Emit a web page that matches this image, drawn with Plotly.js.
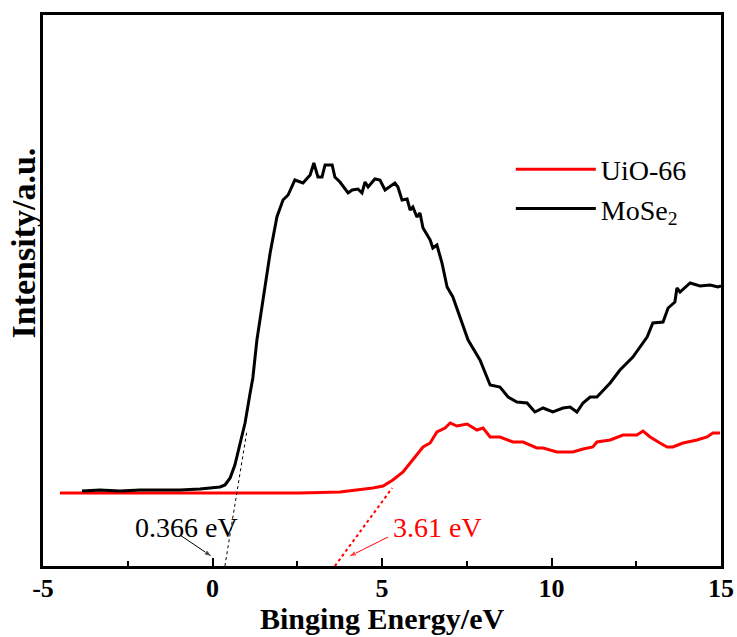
<!DOCTYPE html>
<html>
<head>
<meta charset="utf-8">
<script src="https://cdn.plot.ly/plotly-3.0.1.min.js"></script>
<style>html,body{margin:0;padding:0;background:#fff;}</style>
</head>
<body>
<div id="chart" style="width:737px;height:637px;"></div>
<script>
// MoSe2 spectrum
const mose2X = [-3.85,-3.32,-2.73,-2.14,-1.55,-0.96,-0.37,0.07,0.22,0.37,0.52,0.66,0.75,0.87,0.96,1.11,1.19,1.31,1.49,1.70,1.90,2.08,2.23,2.43,2.67,2.88,2.99,3.11,3.23,3.32,3.53,3.61,3.76,4.00,4.12,4.29,4.41,4.50,4.59,4.79,4.94,5.09,5.38,5.47,5.59,5.74,5.83,5.91,6.03,6.12,6.21,6.42,6.50,6.62,6.77,6.92,7.09,7.30,7.54,7.89,8.19,8.48,8.72,8.98,9.28,9.51,9.75,10.04,10.34,10.55,10.75,10.93,11.14,11.34,11.73,12.02,12.40,12.82,12.99,13.29,13.44,13.64,13.70,13.79,14.09,14.38,14.68,14.91,15.00];
const mose2Y = [75,76,75,76,76,76,77,78,79,81,88,101,113,129,143,173,188,226,266,313,349,366,371,386,383,391,403,389,389,401,401,389,384,373,376,377,373,384,379,387,386,376,383,379,366,367,356,359,349,353,338,326,318,321,303,279,269,249,226,206,181,179,169,164,163,154,158,154,158,159,154,163,169,169,183,196,209,229,243,244,258,264,278,274,283,280,281,279,280];
// UiO-66 spectrum
const uioX = [-4.50,-3.32,-1.84,-0.37,1.11,2.58,3.76,4.35,4.73,5.03,5.32,5.62,5.91,6.21,6.42,6.62,6.86,7.01,7.21,7.51,7.80,7.98,8.19,8.48,8.86,9.16,9.57,9.75,10.16,10.63,10.93,11.22,11.34,11.73,12.11,12.52,12.70,12.91,13.20,13.41,13.58,13.88,14.29,14.59,14.76,14.97];
const uioY = [73,73,73,73,73,73,74,76,78,80,86,94,106,119,123,134,138,143,140,142,136,138,129,129,124,124,118,118,114,114,117,119,124,126,131,131,135,129,123,119,119,123,126,129,133,133];
// tangent (onset) lines
const mose2TanX = [0.366, 1.02];
const mose2TanY = [0, 136];
const uioTanX = [3.61, 5.3];
const uioTanY = [0, 78];
// pointer arrows (tail -> head)
const mose2ArrowX = [-0.96, 0.0];
const mose2ArrowY = [31, 9];
const uioArrowX = [5.18, 4.0];
const uioArrowY = [29, 9];
// labels
const seriesNames = ['UiO-66', 'MoSe<sub>2</sub>'];
const onsetLabels = ['0.366 eV', '3.61 eV'];
const xTickVals = [-5, 0, 5, 10, 15];
const xTickText = ['-5', '0', '5', '10', '15'];
const xTitle = 'Binging Energy/eV';
const yTitle = 'Intensity/a.u.';

const serif = 'Liberation Serif, Times New Roman, serif';

function arrowTrace(xs, ys, color) {
  return {x: xs, y: ys, type: 'scatter', mode: 'lines+markers', showlegend: false,
          line: {color: color, width: 1},
          marker: {symbol: 'arrow', angleref: 'previous', size: [0, 9], color: color}};
}

const traces = [
  {x: uioX, y: uioY, type: 'scatter', mode: 'lines', name: seriesNames[0],
   line: {color: '#ff0000', width: 3}},
  {x: mose2X, y: mose2Y, type: 'scatter', mode: 'lines', name: seriesNames[1],
   line: {color: '#000000', width: 3}},
  {x: mose2TanX, y: mose2TanY, type: 'scatter', mode: 'lines', showlegend: false,
   line: {color: '#000000', width: 1, dash: 'dot'}},
  {x: uioTanX, y: uioTanY, type: 'scatter', mode: 'lines', showlegend: false,
   line: {color: '#ff0000', width: 2, dash: 'dot'}},
  arrowTrace(mose2ArrowX, mose2ArrowY, '#000000'),
  arrowTrace(uioArrowX, uioArrowY, '#ff0000')
];

const layout = {
  width: 737, height: 637,
  margin: {l: 43, r: 16, t: 15, b: 71},
  paper_bgcolor: '#fff', plot_bgcolor: '#fff',
  font: {family: serif, color: '#000'},
  showlegend: true,
  legend: {x: 0.69, y: 0.765, xanchor: 'left', yanchor: 'top',
           font: {family: serif, size: 28, color: '#000'},
           bgcolor: 'rgba(0,0,0,0)', itemwidth: 80, tracegroupgap: 0},
  xaxis: {range: [-5, 15], tickvals: xTickVals, ticktext: xTickText.map(t => '<b>' + t + '</b>'),
          ticks: 'inside', ticklen: 8, tickwidth: 2, ticklabelstandoff: -3,
          tickcolor: '#000', showline: true, linewidth: 3, linecolor: '#000', mirror: true,
          showgrid: false, zeroline: false,
          tickfont: {family: serif, size: 26, color: '#000'},
          minor: {dtick: 2.5, tick0: -2.5, ticks: 'inside', ticklen: 5, tickwidth: 2, tickcolor: '#000', showgrid: false}},
  yaxis: {range: [0, 551], showticklabels: false, ticks: '', showgrid: false, zeroline: false,
          showline: true, linewidth: 3, linecolor: '#000', mirror: true},
  annotations: [
    {x: 0.5, y: -0.0955, xref: 'paper', yref: 'paper', xanchor: 'center', yanchor: 'middle',
     text: '<b>' + xTitle + '</b>', showarrow: false,
     font: {family: serif, size: 30, color: '#000'}},
    {x: -0.029, y: 0.586, xref: 'paper', yref: 'paper', xanchor: 'center', yanchor: 'middle',
     text: '<b>' + yTitle + '</b>', textangle: -90, showarrow: false,
     font: {family: serif, size: 34, color: '#000'}},
    {x: -0.78, y: 39, xref: 'x', yref: 'y', text: onsetLabels[0], showarrow: false,
     font: {family: serif, size: 28, color: '#000'}},
    {x: 6.64, y: 39, xref: 'x', yref: 'y', text: onsetLabels[1], showarrow: false,
     font: {family: serif, size: 28, color: '#ff0000'}}
  ]
};

Plotly.newPlot('chart', traces, layout, {displayModeBar: false, staticPlot: true});
</script>
</body>
</html>
